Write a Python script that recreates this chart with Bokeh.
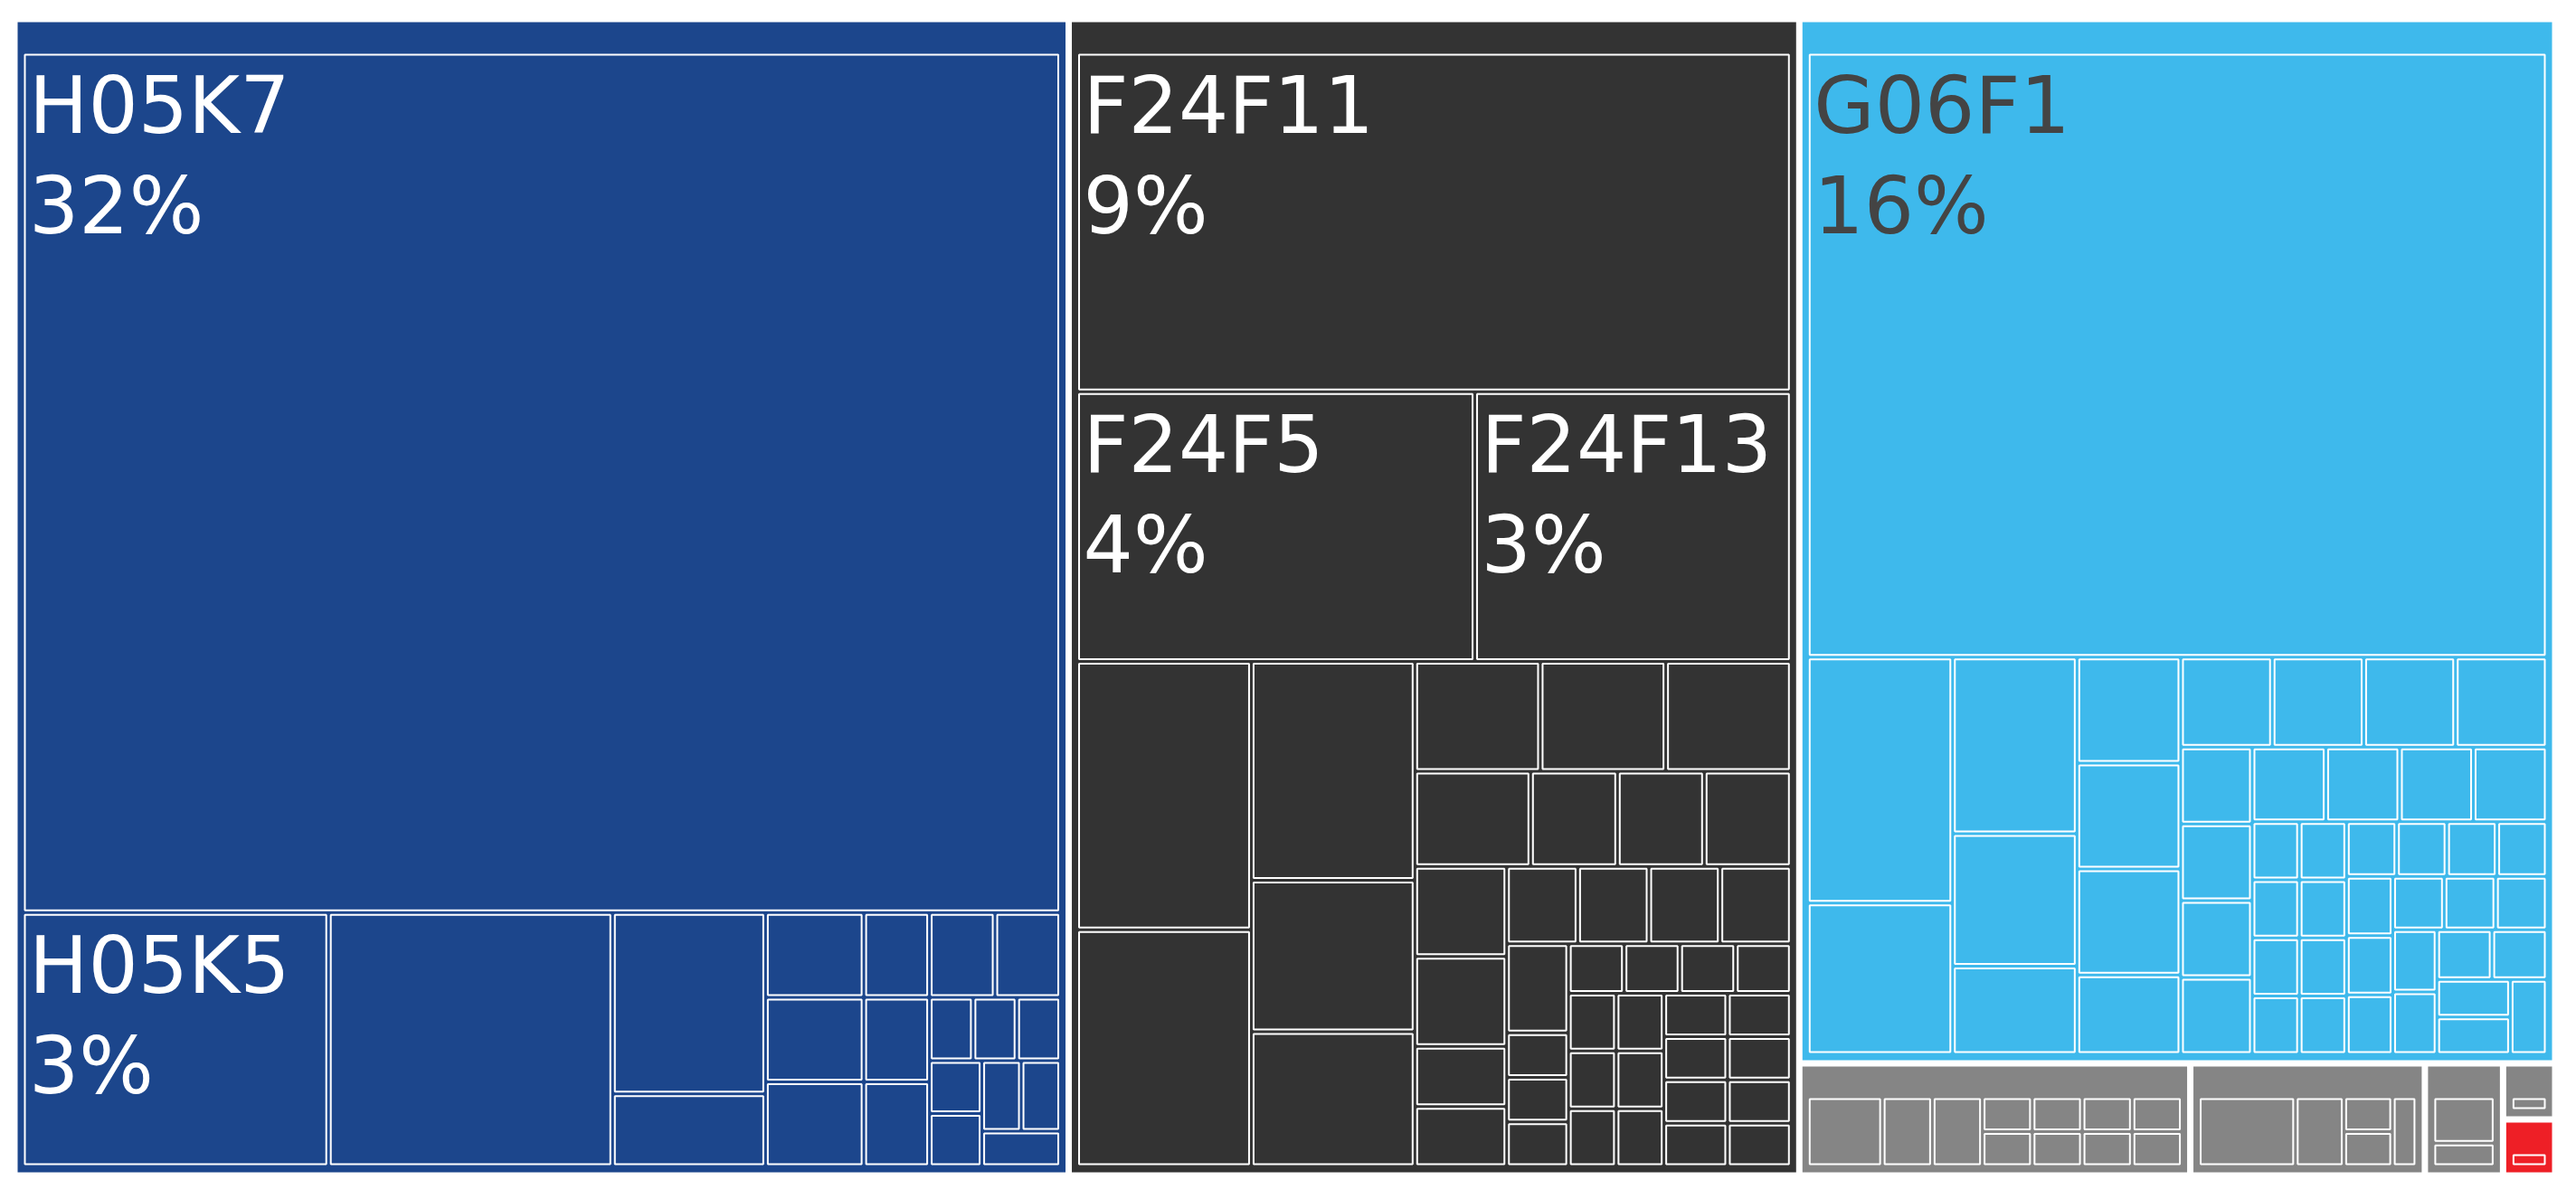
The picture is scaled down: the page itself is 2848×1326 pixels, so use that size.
from bokeh.plotting import figure
from bokeh.models import ColumnDataSource, Range1d
from bokeh.core.properties import value
from bokeh.embed import file_html
from bokeh.resources import INLINE

# ---------------- data (counts per class) ----------------
group_names = ["H05K", "F24F", "G06F", "Other 1", "Other 2", "Other 3", "Other 4", "Other 5"]
group_colors = ["#1c468c", "#333333", "#3eb9ec", "#858585", "#858585", "#858585", "#858585", "#ee1f26"]
label_colors = ["#ffffff", "#ffffff", "#444444", "#ffffff", "#ffffff", "#ffffff", "#ffffff", "#ffffff"]

h05k_values = [322, 28, 26, 10, 4, 3, 3, 3, 2, 2, 2, 2, 2, 1, 1, 1, 1, 1, 1, 1, 1]
h05k_labels = ["H05K7", "H05K5"]

f24f_values = [88, 39, 31, 17, 15, 13, 9, 8, 5, 5, 5, 4, 3, 3, 3, 3, 3,
               2, 2, 2, 2, 2, 2, 2] + [1] * 21
f24f_labels = ["F24F11", "F24F5", "F24F13"]

g06f_values = [163, 13, 8, 8, 6, 4, 4, 4, 4, 3, 3, 3, 3, 3,
               2, 2, 2, 2, 2, 2, 2, 2] + [1] * 25
g06f_labels = ["G06F1"]

other1_values = [3, 2, 2, 1, 1, 1, 1, 1, 1, 1, 1]
other2_values = [4, 2, 1, 1, 1]
other3_values = [2, 1]
other4_values = [1]
other5_values = [1]

group_values = [h05k_values, f24f_values, g06f_values, other1_values,
                other2_values, other3_values, other4_values, other5_values]
group_labels = [h05k_labels, f24f_labels, g06f_labels, [], [], [], [], []]

# ---------------- layout parameters ----------------
W, H = 2832, 1310
ROOT = (19, 24, 2821, 1296)      # x0, y0, x1, y1 (pixels, y down)
GROUP_GAP = 7
PAD_TOP, PAD_SIDE, PAD_BOTTOM = 36, 8, 9
LEAF_GAP = 5
FONT_PX = 87
LINE1 = 56
LINE2 = 167


def squarify(vals, x0, y0, x1, y1, ratio=1.0):
    """d3.treemapSquarify (ratio 1) on pre-sorted values."""
    n = len(vals)
    out = [None] * n
    total = float(sum(vals))
    i0 = i1 = 0
    while i0 < n:
        dx, dy = x1 - x0, y1 - y0
        sumv = vals[i1]
        i1 += 1
        minv = maxv = sumv
        alpha = max(dy / dx, dx / dy) / (total * ratio)
        beta = sumv * sumv * alpha
        minr = max(maxv / beta, beta / minv)
        while i1 < n:
            nv = vals[i1]
            sumv += nv
            minv = min(minv, nv)
            maxv = max(maxv, nv)
            beta = sumv * sumv * alpha
            newr = max(maxv / beta, beta / minv)
            if newr > minr:
                sumv -= nv
                break
            minr = newr
            i1 += 1
        row = range(i0, i1)
        if dx < dy:
            ny = y0 + dy * sumv / total
            k = (x1 - x0) / sumv
            xx = x0
            for i in row:
                out[i] = (xx, y0, xx + vals[i] * k, ny)
                xx += vals[i] * k
            y0 = ny
        else:
            nx = x0 + dx * sumv / total
            k = (y1 - y0) / sumv
            yy = y0
            for i in row:
                out[i] = (x0, yy, nx, yy + vals[i] * k)
                yy += vals[i] * k
            x0 = nx
        total -= sumv
        i0 = i1
    return out


grand_total = sum(sum(v) for v in group_values)
group_sums = [sum(v) for v in group_values]

g = GROUP_GAP / 2.0
cells = squarify(group_sums, ROOT[0] - g, ROOT[1] - g, ROOT[2] + g, ROOT[3] + g)

G = dict(l=[], r=[], t=[], b=[], c=[])
L = dict(l=[], r=[], t=[], b=[], c=[])
T1 = dict(x=[], y=[], text=[], color=[])
T2 = dict(x=[], y=[], text=[], color=[])

h = LEAF_GAP / 2.0
for gi, (cx0, cy0, cx1, cy1) in enumerate(cells):
    gx0, gy0, gx1, gy1 = cx0 + g, cy0 + g, cx1 - g, cy1 - g
    G["l"].append(gx0); G["r"].append(gx1); G["t"].append(gy0); G["b"].append(gy1)
    G["c"].append(group_colors[gi])
    leaves = squarify(group_values[gi], gx0 + PAD_SIDE - h, gy0 + PAD_TOP - h,
                      gx1 - PAD_SIDE + h, gy1 - PAD_BOTTOM + h)
    for li, (lx0, ly0, lx1, ly1) in enumerate(leaves):
        a, b_, c_, d_ = lx0 + h, ly0 + h, lx1 - h, ly1 - h
        L["l"].append(a); L["r"].append(c_); L["t"].append(b_); L["b"].append(d_)
        L["c"].append(group_colors[gi])
        if li < len(group_labels[gi]):
            pct = round(100.0 * group_values[gi][li] / grand_total)
            T1["x"].append(a + 4.5); T1["y"].append(b_ + LINE1)
            T1["text"].append(group_labels[gi][li]); T1["color"].append(label_colors[gi])
            T2["x"].append(a + 4.5); T2["y"].append(b_ + LINE2)
            T2["text"].append(f"{pct}%"); T2["color"].append(label_colors[gi])

p = figure(width=W, height=H, x_range=Range1d(0, W), y_range=Range1d(H, 0),
           output_backend="svg", toolbar_location=None, min_border=0,
           x_axis_location=None, y_axis_location=None)
p.grid.visible = False
p.outline_line_color = None
p.background_fill_color = "#ffffff"
p.border_fill_color = "#ffffff"

p.quad(left="l", right="r", top="t", bottom="b", fill_color="c", line_color=None,
       source=ColumnDataSource(G))
p.quad(left="l", right="r", top="t", bottom="b", fill_color="c", line_color="#ffffff",
       line_width=2, source=ColumnDataSource(L))
for src in (T1, T2):
    p.text(x="x", y="y", text="text", text_color="color", source=ColumnDataSource(src),
           text_font=value("DejaVu Sans"), text_font_size=f"{FONT_PX}px",
           text_baseline="alphabetic", text_align="left")

open("out.html", "w").write(file_html(p, INLINE))
